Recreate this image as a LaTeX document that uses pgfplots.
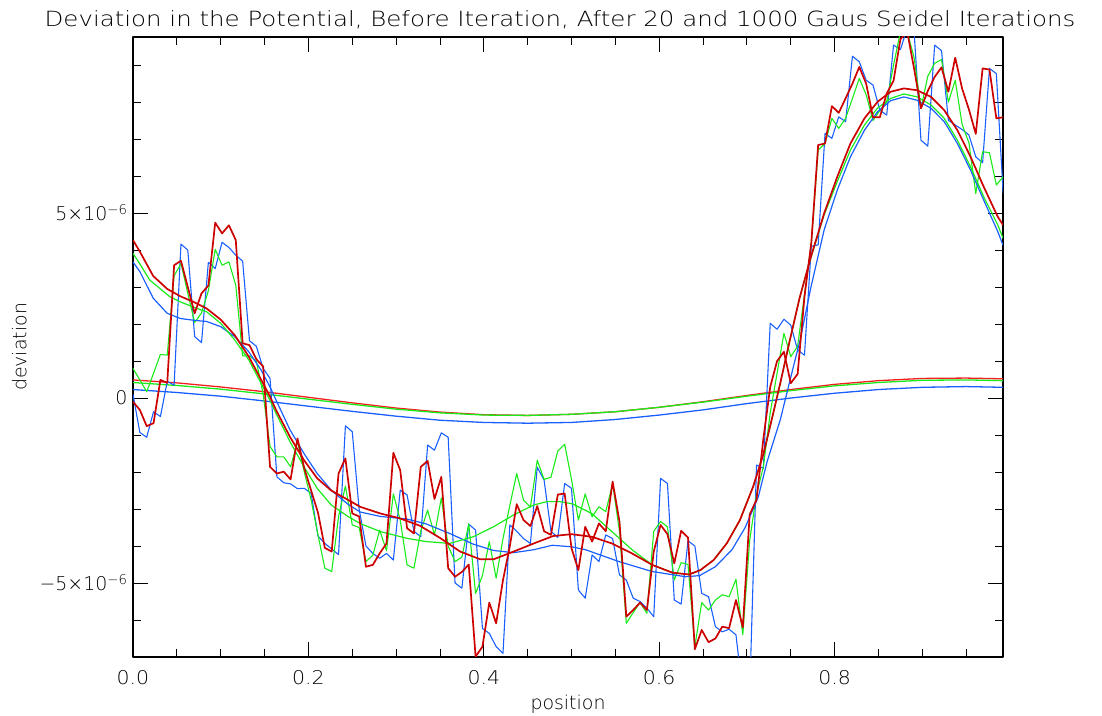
\documentclass[border=0pt]{standalone}
\usepackage{fontspec}
\setmainfont{DejaVu Sans ExtraLight}
\usepackage{pgfplots}
\usepackage{pgfplotstable}
\pgfplotsset{compat=1.18}

\definecolor{cred}{RGB}{205,0,0}
\definecolor{cflatred}{RGB}{245,30,30}
\definecolor{cgreen}{RGB}{25,235,25}
\definecolor{cblue}{RGB}{25,95,255}

% grid index i (x = i/128), values in units of 1e-6
% r, g, b: deviation before iteration
\pgfplotstableread{
i r g b
0 -0.10 0.80 0.10
1 -0.32 0.49 -0.93
2 -0.76 0.17 -1.06
3 -0.68 0.67 -0.37
4 0.49 1.18 -0.50
5 0.41 1.16 0.45
6 3.59 3.30 0.35
7 3.71 3.64 4.16
8 3.00 2.83 4.00
9 2.29 2.04 1.66
10 2.83 2.30 1.50
11 3.04 2.90 3.67
12 4.74 4.02 3.50
13 4.45 3.59 4.21
14 4.67 3.68 4.07
15 4.27 3.05 3.86
16 1.48 1.14 3.70
17 1.43 1.14 1.55
18 1.05 1.00 1.40
19 0.85 0.10 0.80
20 -1.86 -1.31 0.53
21 -2.04 -1.59 -2.13
22 -1.99 -1.59 -2.29
23 -2.20 -1.86 -2.32
24 -1.09 -1.18 -2.45
25 -1.90 -2.00 -2.44
26 -2.50 -2.76 -2.58
27 -3.10 -3.70 -3.73
28 -4.05 -4.60 -3.93
29 -4.15 -4.69 -4.08
30 -2.04 -3.20 -4.23
31 -1.63 -2.38 -0.75
32 -3.12 -3.43 -0.91
33 -3.20 -3.50 -3.00
34 -4.56 -4.42 -4.00
35 -4.51 -4.25 -4.20
36 -4.20 -3.57 -4.33
37 -3.93 -4.13 -4.20
38 -1.48 -2.59 -4.38
39 -1.95 -3.30 -2.49
40 -3.52 -4.51 -2.62
41 -3.66 -4.60 -3.60
42 -1.86 -3.60 -3.75
43 -1.70 -3.03 -1.27
44 -2.73 -3.70 -1.41
45 -2.13 -2.70 -0.94
46 -4.60 -4.00 -1.06
47 -4.83 -4.42 -5.00
48 -4.70 -4.30 -5.14
49 -4.50 -3.40 -3.41
50 -6.99 -5.28 -3.57
51 -6.72 -4.80 -6.23
52 -5.53 -3.88 -6.36
53 -6.09 -4.87 -6.72
54 -4.92 -3.80 -6.90
55 -4.00 -2.90 -3.43
56 -2.87 -2.04 -3.60
57 -3.30 -2.76 -3.80
58 -3.46 -2.95 -3.93
59 -2.92 -1.68 -1.87
60 -3.60 -2.20 -2.22
61 -3.70 -2.14 -3.60
62 -2.61 -1.43 -3.77
63 -2.58 -1.25 -2.31
64 -4.06 -2.20 -2.44
65 -4.65 -3.30 -5.19
66 -3.48 -2.59 -5.41
67 -3.88 -3.21 -4.24
68 -3.39 -2.94 -4.42
69 -3.60 -3.07 -3.70
70 -2.26 -2.31 -3.80
71 -3.34 -3.60 -4.78
72 -5.91 -6.09 -4.92
73 -5.73 -5.80 -5.41
74 -5.53 -5.53 -5.50
75 -5.73 -5.82 -5.68
76 -4.15 -3.60 -5.91
77 -3.43 -3.34 -2.17
78 -3.68 -3.48 -2.31
79 -4.47 -4.92 -5.46
80 -3.59 -4.45 -5.57
81 -3.77 -4.50 -3.86
82 -6.79 -6.72 -4.00
83 -6.27 -5.53 -5.28
84 -6.60 -5.73 -5.37
85 -6.50 -5.46 -6.18
86 -6.18 -5.32 -6.32
87 -6.22 -5.37 -6.25
88 -5.46 -4.90 -6.40
89 -6.20 -6.40 -8.00
90 -3.15 -3.85 -8.00
91 -2.75 -2.60 -1.81
92 -1.10 -1.86 -1.90
93 0.30 -0.40 2.02
94 1.00 0.67 1.86
95 1.25 1.75 2.13
96 0.40 1.12 1.97
97 0.65 1.40 1.30
98 2.74 2.80 1.16
99 4.20 4.20 4.10
100 6.84 6.70 4.14
101 6.88 6.88 7.15
102 7.89 7.56 7.02
103 7.71 7.29 7.60
104 8.10 7.56 7.47
105 8.50 8.10 9.24
106 8.95 8.64 9.09
107 8.50 8.20 8.59
108 7.59 7.50 8.46
109 7.59 7.78 7.78
110 8.23 8.00 7.65
111 8.58 9.00 9.54
112 9.70 9.90 9.42
113 9.90 9.90 10.00
114 8.90 9.20 9.90
115 7.83 7.83 6.97
116 8.30 8.70 6.81
117 8.68 9.05 9.54
118 8.94 9.15 9.39
119 8.28 8.00 7.51
120 9.20 8.59 7.38
121 8.37 7.40 7.26
122 7.80 6.90 7.11
123 7.14 5.53 6.52
124 8.91 6.66 6.36
125 8.88 6.63 8.91
126 7.56 5.76 8.77
127 7.59 5.98 5.53
}\noisy

% after 20 iterations
\pgfplotstableread{
x y
0 4.27
0.008 3.95
0.023 3.30
0.039 2.95
0.054 2.75
0.069 2.60
0.084 2.42
0.100 2.12
0.116 1.70
0.132 1.12
0.146 0.50
0.156 0.05
0.163 -0.32
0.179 -1.05
0.195 -1.68
0.210 -2.17
0.226 -2.50
0.245 -2.75
0.259 -2.94
0.282 -3.12
0.304 -3.25
0.327 -3.45
0.350 -3.78
0.373 -4.15
0.396 -4.36
0.411 -4.36
0.434 -4.15
0.457 -3.93
0.479 -3.73
0.500 -3.68
0.523 -3.75
0.546 -3.93
0.569 -4.20
0.592 -4.51
0.615 -4.72
0.634 -4.77
0.647 -4.65
0.662 -4.38
0.677 -3.93
0.692 -3.30
0.707 -2.40
0.719 -1.50
0.730 -0.41
0.738 0.40
0.749 1.57
0.760 2.70
0.773 3.82
0.788 4.99
0.803 5.98
0.818 6.88
0.834 7.56
0.849 8.01
0.864 8.28
0.879 8.37
0.894 8.32
0.910 8.14
0.925 7.78
0.940 7.24
0.955 6.52
0.970 5.71
0.986 4.90
0.992 4.68
}\redmid

\pgfplotstableread{
x y
0 3.91
0.008 3.62
0.019 3.19
0.042 2.74
0.054 2.60
0.073 2.42
0.084 2.33
0.100 2.02
0.116 1.57
0.132 1.03
0.146 0.40
0.156 -0.05
0.163 -0.41
0.179 -1.18
0.195 -1.86
0.210 -2.44
0.226 -2.89
0.245 -3.20
0.259 -3.39
0.282 -3.61
0.312 -3.79
0.334 -3.88
0.361 -3.93
0.388 -3.75
0.411 -3.48
0.434 -3.16
0.457 -2.89
0.472 -2.80
0.487 -2.80
0.501 -2.86
0.523 -3.12
0.546 -3.61
0.569 -4.10
0.592 -4.51
0.615 -4.72
0.634 -4.77
0.647 -4.65
0.662 -4.38
0.677 -3.93
0.692 -3.30
0.707 -2.40
0.719 -1.50
0.730 -0.41
0.738 0.40
0.749 1.57
0.760 2.70
0.773 3.80
0.788 4.95
0.803 5.85
0.818 6.70
0.834 7.38
0.849 7.84
0.864 8.10
0.879 8.22
0.894 8.14
0.910 7.92
0.925 7.56
0.940 6.97
0.955 6.25
0.970 5.44
0.986 4.68
0.992 4.32
}\greenmid

\pgfplotstableread{
x y
0 3.68
0.008 3.41
0.023 2.70
0.039 2.29
0.054 2.15
0.070 2.10
0.084 2.07
0.100 1.93
0.116 1.66
0.132 1.25
0.146 0.76
0.156 0.31
0.163 -0.05
0.179 -0.86
0.195 -1.50
0.210 -2.04
0.226 -2.49
0.245 -2.87
0.259 -3.08
0.282 -3.20
0.312 -3.27
0.334 -3.40
0.361 -3.66
0.388 -3.95
0.411 -4.12
0.434 -4.18
0.457 -4.10
0.478 -3.98
0.500 -4.02
0.516 -4.10
0.554 -4.42
0.592 -4.69
0.630 -4.83
0.646 -4.80
0.664 -4.56
0.683 -4.10
0.698 -3.50
0.713 -2.67
0.723 -1.72
0.738 -0.59
0.753 0.85
0.761 1.60
0.773 3.00
0.788 4.54
0.803 5.62
0.818 6.52
0.834 7.24
0.849 7.74
0.864 8.04
0.879 8.14
0.894 8.05
0.910 7.83
0.925 7.47
0.940 6.88
0.955 6.16
0.970 5.35
0.986 4.50
0.992 4.13
}\bluemid

% after 1000 iterations
\pgfplotstableread{
x r g b
0 0.49 0.42 0.23
0.05 0.41 0.34 0.15
0.10 0.30 0.24 0.05
0.15 0.17 0.11 -0.08
0.20 0.02 -0.03 -0.22
0.25 -0.13 -0.17 -0.36
0.30 -0.27 -0.30 -0.49
0.35 -0.38 -0.40 -0.60
0.40 -0.45 -0.46 -0.66
0.45 -0.47 -0.47 -0.68
0.50 -0.44 -0.44 -0.66
0.55 -0.37 -0.37 -0.58
0.60 -0.25 -0.25 -0.46
0.65 -0.10 -0.11 -0.32
0.70 0.07 0.05 -0.15
0.75 0.23 0.20 0.00
0.80 0.37 0.33 0.13
0.85 0.47 0.42 0.23
0.90 0.53 0.48 0.29
0.95 0.54 0.49 0.31
0.992 0.52 0.47 0.29
}\flat

\begin{document}
\begin{tikzpicture}[x=1bp,y=1bp]
\useasboundingbox (-133,-59) rectangle (969,657);
\begin{axis}[
  at={(0,0)}, anchor=south west,
  scale only axis, width=870bp, height=620bp,
  xmin=0, xmax=0.992, ymin=-7.0, ymax=9.76,
  xtick={0,0.2,0.4,0.6,0.8},
  xticklabels={0.0,0.2,0.4,0.6,0.8},
  minor xtick={0.05,0.1,0.15,0.25,0.3,0.35,0.45,0.5,0.55,0.65,0.7,0.75,0.85,0.9,0.95},
  ytick={-5,0,5},
  yticklabels={−5×10\textsuperscript{−6},0,5×10\textsuperscript{−6}},
  minor ytick={-6,-4,-3,-2,-1,1,2,3,4,6,7,8,9},
  major tick length=15bp, minor tick length=8bp,
  tick style={black, line width=0.9pt},
  axis line style={black, line width=1.1pt},
  tick label style={font=\fontsize{19}{21}\selectfont},
  xticklabel style={yshift=-10bp, xscale=1.08},
  yticklabel style={xshift=-2bp},
  xlabel={position}, ylabel={deviation},
  label style={font=\fontsize{19}{21}\selectfont},
  xlabel style={yshift=-3bp},
  ylabel style={yshift=6bp},
  no markers,
  line join=round,
]
\addplot[draw=cflatred, line width=1.3pt] table[x=x,y=r]{\flat};
\addplot[draw=cgreen, line width=1.3pt] table[x=x,y=g]{\flat};
\addplot[draw=cblue, line width=1.3pt] table[x=x,y=b]{\flat};
\addplot[draw=cblue, line width=1.1pt] table[x expr=\thisrow{i}/128,y=b]{\noisy};
\addplot[draw=cgreen, line width=1.1pt] table[x expr=\thisrow{i}/128,y=g]{\noisy};
\addplot[draw=cblue, line width=1.2pt] table[x=x,y=y]{\bluemid};
\addplot[draw=cgreen, line width=1.2pt] table[x=x,y=y]{\greenmid};
\addplot[draw=cred, line width=1.7pt] table[x expr=\thisrow{i}/128,y=r]{\noisy};
\addplot[draw=cred, line width=1.7pt] table[x=x,y=y]{\redmid};
\end{axis}
\node[anchor=base, xscale=1.17, font=\fontsize{21}{23}\selectfont] at (427,630)
  {Deviation in the Potential, Before Iteration, After 20 and 1000 Gaus Seidel Iterations};
\end{tikzpicture}
\end{document}
